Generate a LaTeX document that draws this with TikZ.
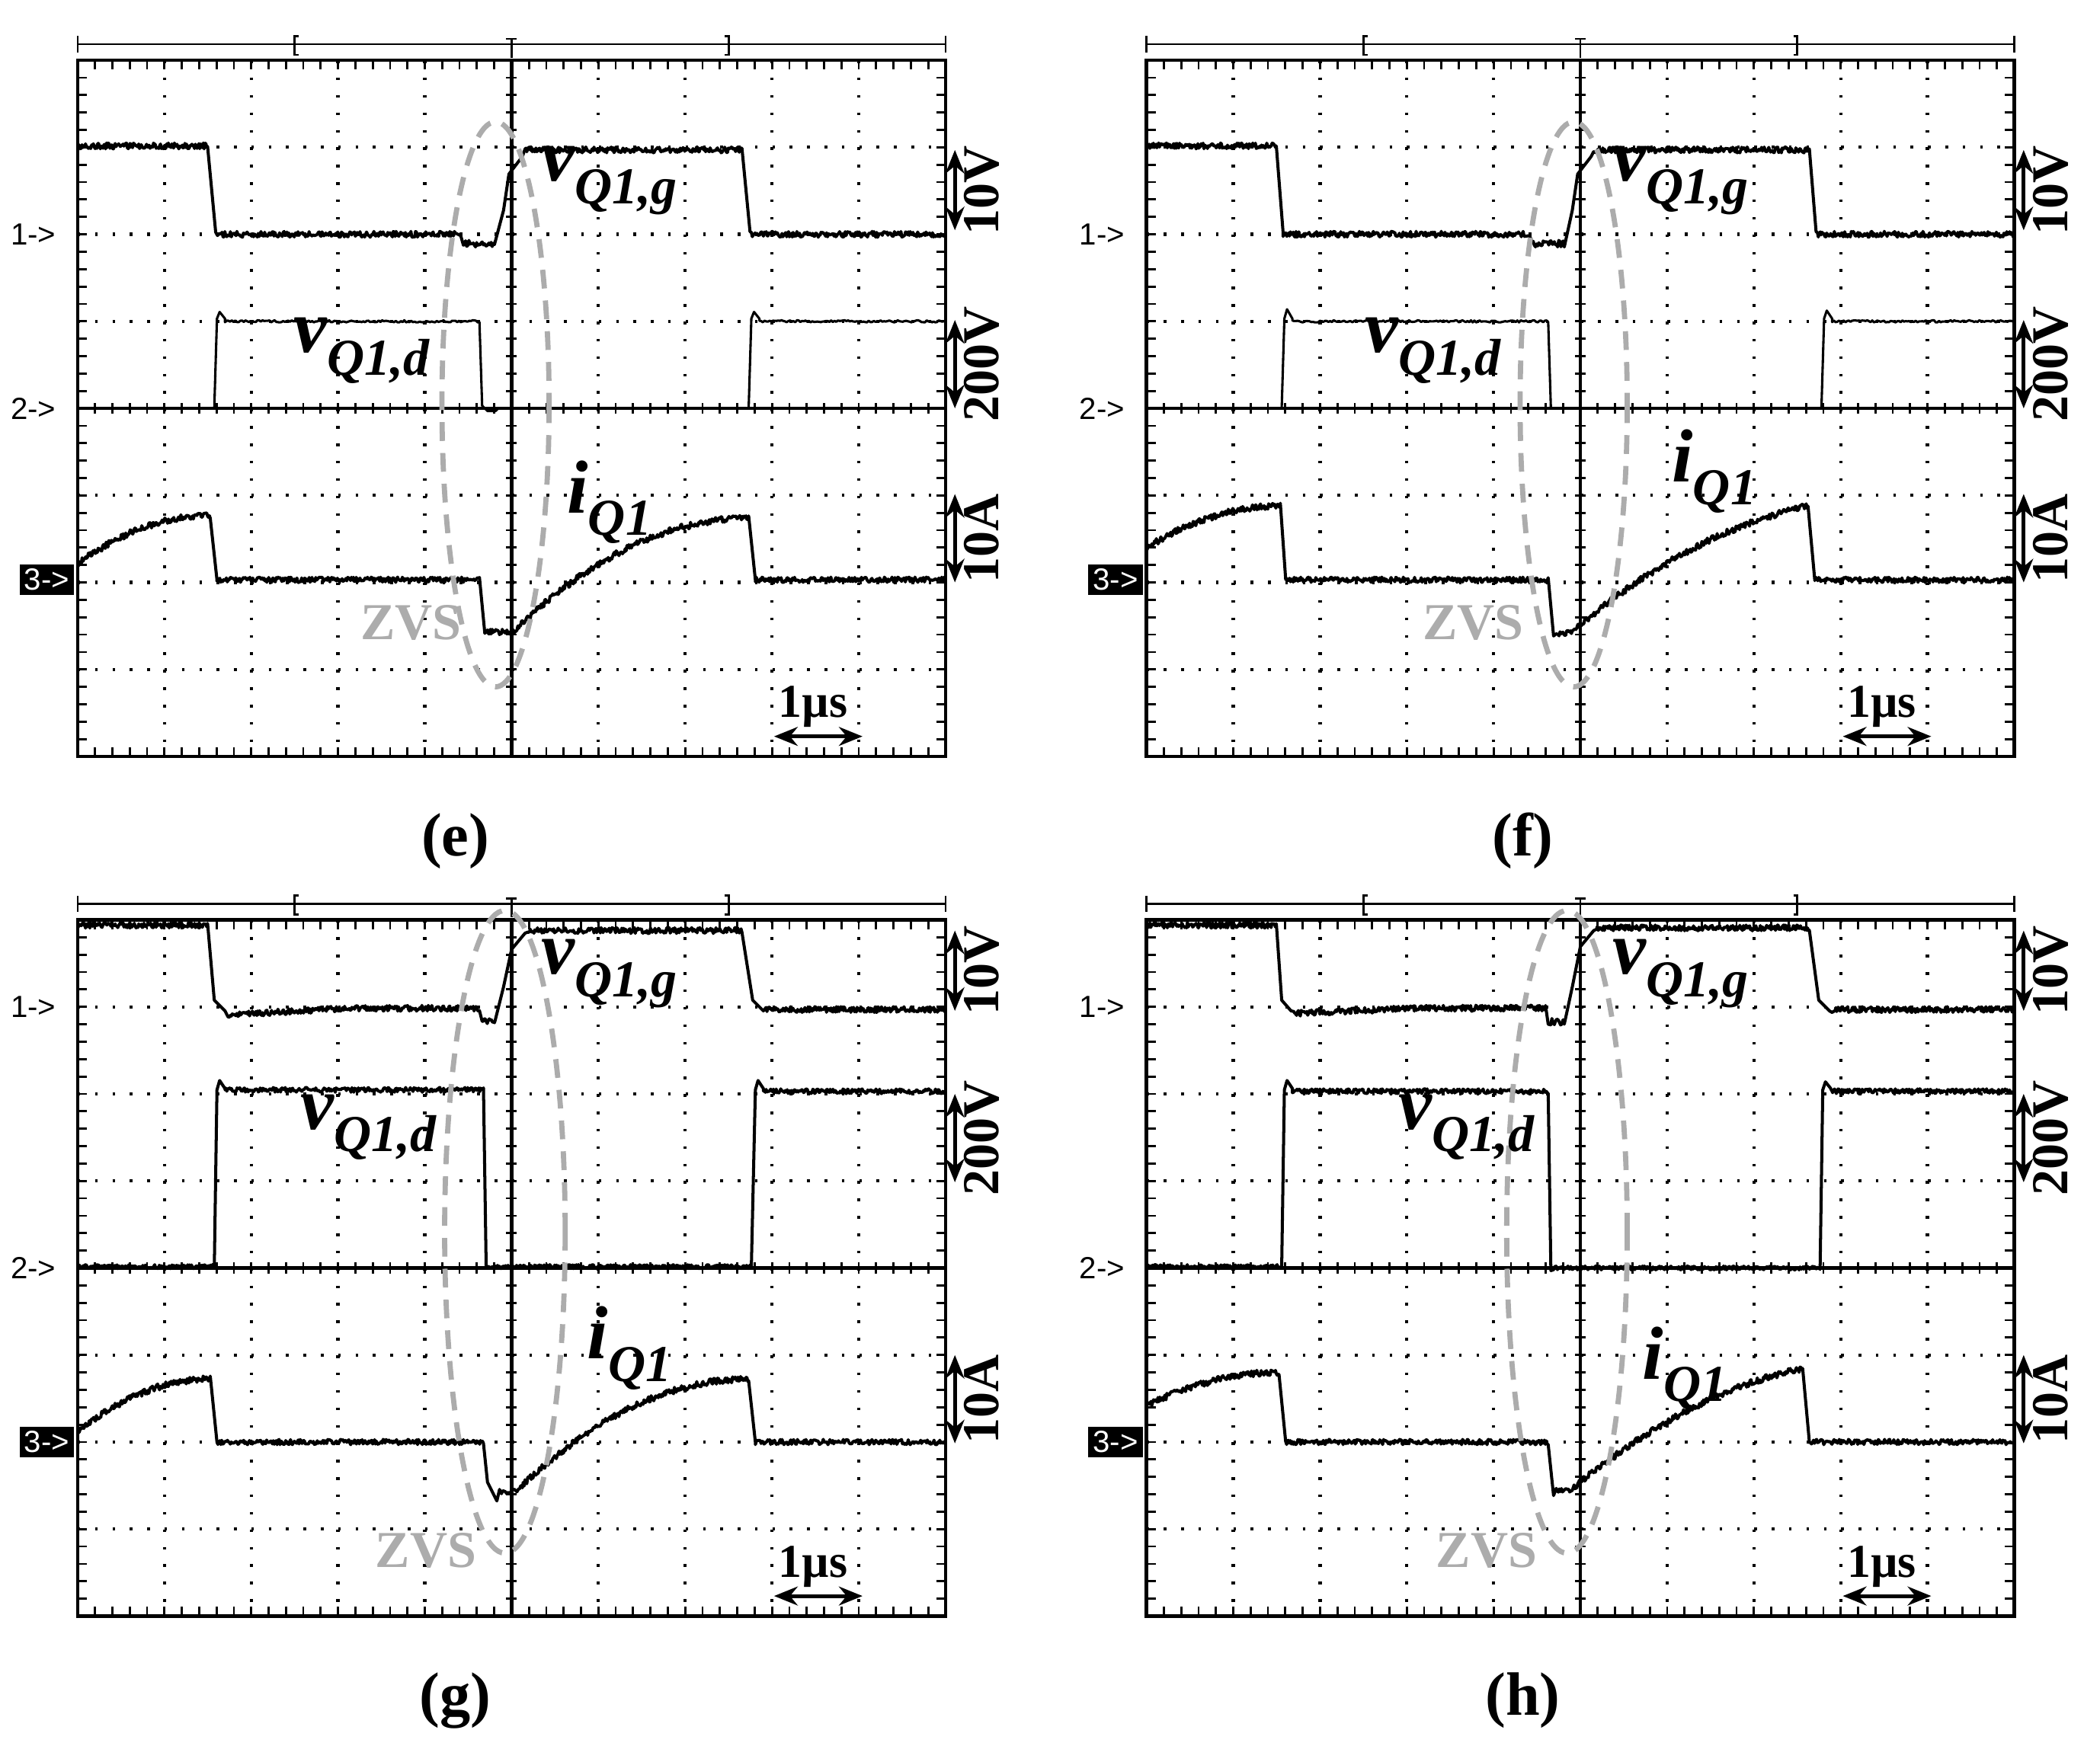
\documentclass[tikz,border=0pt]{standalone}
\usepackage{fontspec}
\setmainfont{Liberation Serif}
\newfontfamily\sansf{Liberation Sans}
\usetikzlibrary{arrows.meta}
\tikzset{
  frm/.style={line width=0.7pt,black},
  tk/.style={line width=0.45pt,black},
  grdv/.style={line width=0.7pt,black,dash pattern=on 0.02cm off 0.11cm},
  grdh/.style={line width=0.7pt,black,dash pattern=on 0.02cm off 0.1096cm},
  tr/.style={line width=0.65pt,black,line join=round},
  tr2/.style={line width=0.5pt,black,line join=round},
  ell/.style={line width=1.1pt,gray!65,dash pattern=on 0.14cm off 0.09cm},
  zvs/.style={gray!65,font=\fontsize{11}{11}\selectfont\bfseries},
  sig/.style={font=\fontsize{16}{16}\selectfont\bfseries\itshape},
  scl/.style={font=\fontsize{11}{11}\selectfont\bfseries,rotate=90},
  chm/.style={font=\sansf\fontsize{6.5}{6.5}\selectfont,inner sep=1pt},
  plab/.style={font=\fontsize{13}{13}\selectfont\bfseries},
  us/.style={font=\fontsize{10}{10}\selectfont\bfseries},
  dbl/.style={line width=0.8pt,{Stealth[length=5pt,width=4pt]}-{Stealth[length=5pt,width=4pt]}}
}
\newcommand\sub[1]{\raisebox{-0.3em}{\fontsize{11}{11}\selectfont #1}}
\newcommand\scopeframe[7]{%
\begin{scope}[shift={(#1,#2)}]
  \foreach \i in {1,2,3,4,6,7,8,9} \draw[grdv] (\i*64.8,0) -- (\i*64.8,520);
  \foreach \j in {1,2,3,5,6,7} \draw[grdh] (0,\j*65) -- (648,\j*65);
  \draw[frm] (0,0) rectangle (648,520);
  \draw[frm] (324,0) -- (324,520) (0,260) -- (648,260);
  \foreach \k in {1,...,49} \draw[tk] (\k*12.96,0) -- (\k*12.96,7) (\k*12.96,520) -- (\k*12.96,513) (\k*12.96,256) -- (\k*12.96,264);
  \foreach \k in {1,...,39} \draw[tk] (0,\k*13) -- (7,\k*13) (648,\k*13) -- (641,\k*13) (320,\k*13) -- (328,\k*13);
  \draw[tk] (0,-12) -- (648,-12) (0,-18) -- (0,-6) (648,-18) -- (648,-6)
    (165,-18) -- (162,-18) -- (162,-4) -- (165,-4) (483,-18) -- (486,-18) -- (486,-4) -- (483,-4)
    (320,-16) -- (328,-16) (324,-16) -- (324,-2);
  \node[chm,anchor=east] (m1) at (-12,#3) {1-\textgreater};
  \node[chm,anchor=east] (m2) at (-12,260) {2-\textgreater};
  \node[chm,anchor=east,fill=black,text=white,minimum height=0.22cm,minimum width=0.38cm] (m3) at (-2,#4) {3-\textgreater};
  \draw[dbl] (655,#5-30) -- (655,#5+30);
  \draw[dbl] (655,#6-33) -- (655,#6+33);
  \draw[dbl] (655,#7-33) -- (655,#7+33);
  \node[scl] (s1) at (675,#5) {10V};
  \node[scl] (s2) at (675,#6) {200V};
  \node[scl] (s3) at (675,#7) {10A};
  \node[us] (us) at (549,483) {1µs};
  \draw[dbl] (520,505) -- (586,505);
\end{scope}}
\begin{document}
\begin{tikzpicture}[x=0.01cm,y=-0.01cm]
\useasboundingbox (0,0) rectangle (1568,1304);
\pgfmathsetseed{7}
% ===== (e)
\scopeframe{58}{45}{130}{388}{97}{227}{357}
\begin{scope}[shift={(58,45)}]
\draw[tr] plot[domain=0:97,samples=150] (\x,{64+2.2*rand}) -- (103,128) -- plot[domain=103:282,samples=260] (\x,{130+2.2*rand}) -- (286,131) -- plot[domain=288:312,samples=30] (\x,{137+2.5*rand}) -- (318,112) -- (322,85) -- (332,72) -- plot[domain=334:496,samples=240] (\x,{67+2.2*rand}) -- (502,128) -- plot[domain=503:648,samples=210] (\x,{130+2.2*rand});
\draw[tr2] (0,260) -- (102,260) -- (104,193) -- (106,188) -- (110,193) -- plot[domain=110:300,samples=150] (\x,{195+0.8*rand}) -- (302,258) -- (306,262) -- (312,262) -- (314,260) -- (501,260) -- (503,193) -- (505,188) -- (509,193) -- plot[domain=509:648,samples=110] (\x,{195+0.8*rand});
\draw[tr] plot[domain=0:99,samples=150] (\x,{376-36*(1-(1-\x/99)^2)+2.4*rand}) -- (104,388) -- plot[domain=104:300,samples=280] (\x,{388+2*rand}) -- (304,428) -- plot[domain=306:326,samples=30] (\x,{427+2*rand}) -- plot[domain=328:501,samples=260] (\x,{424-82*(1-(1-(\x-328)/173)^2)+2.4*rand}) -- (506,388) -- plot[domain=506:648,samples=200] (\x,{388+2*rand});
\draw[ell] (312,257) ellipse [x radius=40, y radius=211];
\node[sig] (vg) at (397,90) {v\sub{Q1,g}};
\node[sig] (vd) at (212,217) {v\sub{Q1,d}};
\node[sig] (iq) at (397,330) {i\sub{Q1}};
\node[zvs] (z) at (249,420) {ZVS};
\end{scope}
\node[plab] (ce) at (340,628) {(e)};
% ===== (f)
\scopeframe{856}{45}{130}{388}{97}{227}{357}
\begin{scope}[shift={(856,45)}]
\draw[tr] plot[domain=0:97,samples=150] (\x,{64+2.2*rand}) -- (102,128) -- plot[domain=102:282,samples=260] (\x,{130+2.2*rand}) -- (286,131) -- plot[domain=288:312,samples=30] (\x,{137+2.5*rand}) -- (318,112) -- (322,85) -- (332,72) -- plot[domain=334:495,samples=240] (\x,{67+2.2*rand}) -- (500,128) -- plot[domain=501:648,samples=210] (\x,{130+2.2*rand});
\draw[tr2] (0,260) -- (101,260) -- (103,193) -- (105,186) -- (109,193) -- plot[domain=109:300,samples=150] (\x,{195+0.8*rand}) -- (302,260) -- (504,260) -- (506,193) -- (508,187) -- (512,193) -- plot[domain=512:648,samples=110] (\x,{195+0.8*rand});
\draw[tr] plot[domain=0:100,samples=150] (\x,{364-31*(1-(1-\x/100)^2)+2.4*rand}) -- (104,388) -- plot[domain=104:300,samples=280] (\x,{388+2*rand}) -- (304,430) -- plot[domain=306:318,samples=18] (\x,{428+2*rand}) -- plot[domain=320:494,samples=260] (\x,{425-92*(0.4*(\x-320)/174+0.6*(1-(1-(\x-320)/174)^2))+2.4*rand}) -- (499,388) -- plot[domain=499:648,samples=200] (\x,{388+2*rand});
\draw[ell] (319,257) ellipse [x radius=40, y radius=211];
\node[sig] (vg) at (399,90) {v\sub{Q1,g}};
\node[sig] (vd) at (214,217) {v\sub{Q1,d}};
\node[sig] (iq) at (424,307) {i\sub{Q1}};
\node[zvs] (z) at (244,420) {ZVS};
\end{scope}
\node[plab] (cf) at (1137,628) {(f)};
% ===== (g)
\scopeframe{58}{687}{65}{390}{38}{163}{358}
\begin{scope}[shift={(58,687)}]
\draw[tr] plot[domain=0:97,samples=150] (\x,{4+2.2*rand}) -- (102,60) -- (110,68) -- plot[domain=112:200,samples=130] (\x,{71-5*(\x-112)/88+2.2*rand}) -- plot[domain=200:300,samples=150] (\x,{66+2.2*rand}) -- plot[domain=302:312,samples=14] (\x,{75+2.5*rand}) -- (318,50) -- (324,22) -- (334,10) -- plot[domain=336:496,samples=240] (\x,{8+2.2*rand}) -- (504,60) -- (512,68) -- plot[domain=514:648,samples=200] (\x,{67+2.2*rand});
\draw[tr] plot[domain=0:102,samples=150] (\x,{259+1.5*rand}) -- (104,127) -- (106,120) -- (110,126) -- plot[domain=110:303,samples=280] (\x,{127+1.8*rand}) -- (305,259) -- plot[domain=305:503,samples=280] (\x,{259+1.5*rand}) -- (506,127) -- (508,120) -- (512,126) -- plot[domain=512:648,samples=200] (\x,{128+1.8*rand});
\draw[tr] plot[domain=0:99,samples=150] (\x,{382-39*(1-(1-\x/99)^2)+2.4*rand}) -- (104,390) -- plot[domain=104:303,samples=280] (\x,{390+2*rand}) -- (306,420) -- (313,434) -- plot[domain=315:326,samples=16] (\x,{427+2*rand}) -- plot[domain=328:501,samples=260] (\x,{426-83*(1-(1-(\x-328)/173)^2)+2.4*rand}) -- (506,390) -- plot[domain=506:648,samples=200] (\x,{390+2*rand});
\draw[ell] (319,233) ellipse [x radius=45, y radius=240];
\node[sig] (vg) at (397,40) {v\sub{Q1,g}};
\node[sig] (vd) at (217,155) {v\sub{Q1,d}};
\node[sig] (iq) at (412,320) {i\sub{Q1}};
\node[zvs] (z) at (260,471) {ZVS};
\end{scope}
\node[plab] (cg) at (340,1270) {(g)};
% ===== (h)
\scopeframe{856}{687}{65}{390}{38}{163}{358}
\begin{scope}[shift={(856,687)}]
\draw[tr] plot[domain=0:97,samples=150] (\x,{4+2.2*rand}) -- (101,60) -- (108,68) -- plot[domain=110:200,samples=130] (\x,{70-4*(\x-110)/90+2.2*rand}) -- plot[domain=200:298,samples=150] (\x,{66+2.2*rand}) -- plot[domain=300:312,samples=14] (\x,{76+2.5*rand}) -- (318,50) -- (324,20) -- (334,8) -- plot[domain=336:495,samples=240] (\x,{6+2.2*rand}) -- (502,60) -- (510,68) -- plot[domain=512:648,samples=200] (\x,{67+2.2*rand});
\draw[tr] plot[domain=0:101,samples=150] (\x,{259+1.5*rand}) -- (103,127) -- (105,120) -- (109,126) -- plot[domain=109:300,samples=280] (\x,{128+1.8*rand}) -- (302,262) -- plot[domain=304:503,samples=280] (\x,{260+1.5*rand}) -- (505,127) -- (507,121) -- (511,126) -- plot[domain=511:648,samples=200] (\x,{128+1.8*rand});
\draw[tr] plot[domain=0:99,samples=150] (\x,{363-25*(1-(1-\x/99)^2)+2.4*rand}) -- (104,390) -- plot[domain=104:300,samples=280] (\x,{390+2*rand}) -- (304,430) -- plot[domain=306:316,samples=14] (\x,{426+2*rand}) -- plot[domain=318:490,samples=260] (\x,{425-90*(0.4*(\x-318)/172+0.6*(1-(1-(\x-318)/172)^2))+2.4*rand}) -- (495,390) -- plot[domain=495:648,samples=200] (\x,{390+2*rand});
\draw[ell] (314,233) ellipse [x radius=45, y radius=240];
\node[sig] (vg) at (399,40) {v\sub{Q1,g}};
\node[sig] (vd) at (239,155) {v\sub{Q1,d}};
\node[sig] (iq) at (402,335) {i\sub{Q1}};
\node[zvs] (z) at (254,471) {ZVS};
\end{scope}
\node[plab] (ch) at (1137,1270) {(h)};
\end{tikzpicture}
\end{document}
